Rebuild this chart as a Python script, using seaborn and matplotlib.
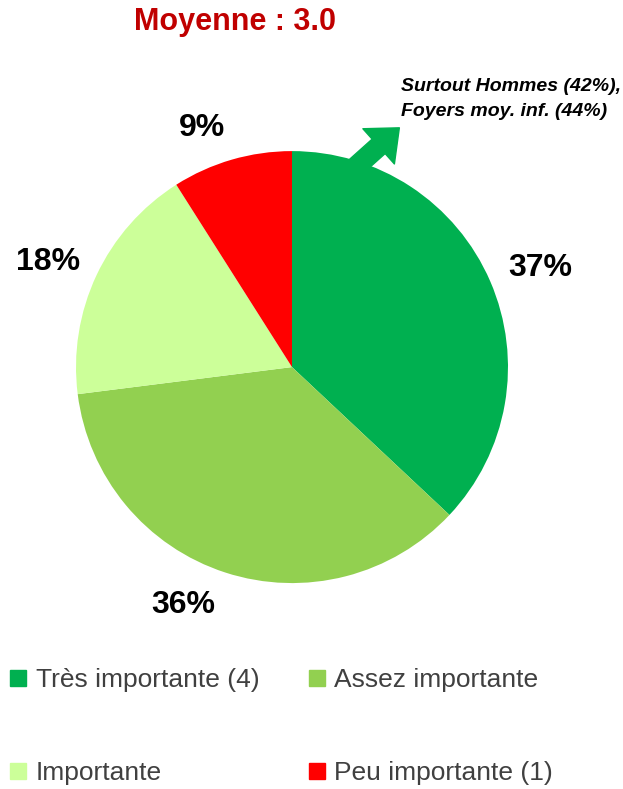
import matplotlib
matplotlib.use("Agg")
import matplotlib.pyplot as plt
from matplotlib.lines import Line2D
from matplotlib.patches import FancyArrowPatch
import seaborn as sns

categories = ["Très importante (4)", "Assez importante", "Importante", "Peu importante (1)"]
values = [37, 36, 18, 9]
colors = ["#00B050", "#92D050", "#CCFF99", "#FF0000"]
title = "Moyenne : 3.0"
note = "Surtout Hommes (42%),\nFoyers moy. inf. (44%)"

sns.set_theme(style="white")
plt.rcParams["font.family"] = ["Liberation Sans Narrow", "Liberation Sans", "DejaVu Sans"]

fig = plt.figure(figsize=(6.23, 7.89), dpi=100)
ax = fig.add_axes([0.122, 0.261, 0.6934, 0.5475])

# arrow + note for the top segment (drawn under the pie)
fig.text(0.643, 0.875, note, ha="left", va="center", fontsize=14,
         fontstyle="italic", fontweight="bold", color="black", linespacing=1.6)
fig.add_artist(FancyArrowPatch(
    (0.566, 0.785), (0.641, 0.838), transform=fig.transFigure,
    arrowstyle="simple,head_length=1.0,head_width=1.7,tail_width=0.7",
    mutation_scale=20, color="#00B050", shrinkA=0, shrinkB=0))

wedges, texts, autotexts = ax.pie(
    values, colors=colors, startangle=90, counterclock=False,
    autopct="%d%%", pctdistance=1.23,
    wedgeprops=dict(linewidth=0),
    textprops=dict(fontsize=23, fontweight="bold", color="black"),
)
# labels sit a little off the mid-angle in the original
label_pos = [(1.148, 0.458), (-0.505, -1.102), (-1.130, 0.486), (-0.417, 1.106)]
for t, p in zip(autotexts, label_pos):
    t.set_position(p)

ax.set_xlim(-1, 1)
ax.set_ylim(-1, 1)
ax.set_aspect("equal")
ax.axis("off")

fig.text(0.377, 0.972, title, ha="center", va="center", fontsize=22,
         fontweight="bold", color="#C00000")

handles = [Line2D([0], [0], marker="s", linestyle="", markersize=11,
                  markerfacecolor=c, markeredgecolor=c) for c in colors]
order = [0, 2, 1, 3]
fig.legend([handles[i] for i in order], [categories[i] for i in order],
           loc="lower left", bbox_to_anchor=(0.0, -0.008), ncol=2, frameon=False,
           fontsize=19, labelcolor="#404040", handlelength=0.6, handletextpad=0.35,
           labelspacing=2.6, columnspacing=1.9, borderaxespad=0.0)

fig.savefig("out.png", dpi=100)
